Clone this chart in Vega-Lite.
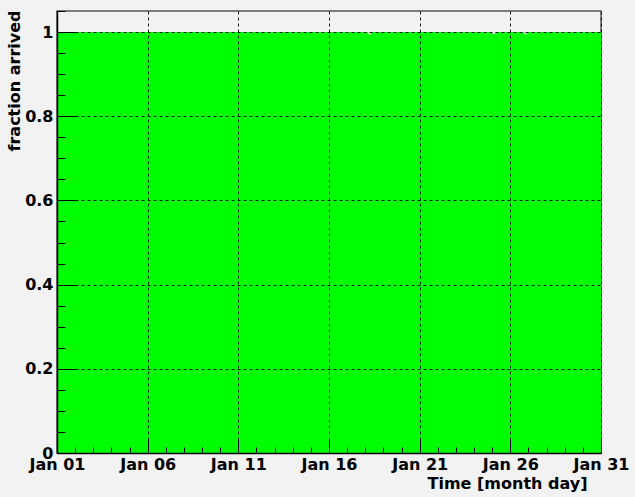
{
  "$schema": "https://vega.github.io/schema/vega-lite/v6.json",
  "width": 544,
  "height": 442,
  "autosize": {"type": "none"},
  "padding": {"left": 57, "top": 11, "right": 34, "bottom": 44},
  "background": "#f2f2f2",
  "config": {
    "view": {"stroke": "#555555", "strokeWidth": 1.5, "fill": "#f2f2f2"},
    "font": "DejaVu Sans"
  },
  "data": {
    "values": [
      {"t": "2010-01-01T00:00:00Z", "v": 1},
      {"t": "2010-01-18T04:00:00Z", "v": 0.995},
      {"t": "2010-01-18T08:00:00Z", "v": 1},
      {"t": "2010-01-25T00:00:00Z", "v": 0.996},
      {"t": "2010-01-25T04:00:00Z", "v": 1},
      {"t": "2010-01-26T18:00:00Z", "v": 0.996},
      {"t": "2010-01-26T22:00:00Z", "v": 1},
      {"t": "2010-01-31T00:00:00Z", "v": 1}
    ]
  },
  "mark": {"type": "area", "interpolate": "step-after", "color": "#00ff00", "opacity": 1},
  "encoding": {
    "x": {
      "field": "t",
      "type": "temporal",
      "scale": {
        "type": "utc",
        "domain": [
          {"year": 2010, "month": "jan", "date": 1, "utc": true},
          {"year": 2010, "month": "jan", "date": 31, "utc": true}
        ],
        "nice": false
      },
      "axis": {
        "zindex": 1,
        "tickCount": {"interval": "day", "step": 1},
        "labelExpr": "(utcdate(datum.value) - 1) % 5 == 0 ? utcFormat(datum.value, '%b %d') : ''",
        "labelFlush": false,
        "labelOverlap": false,
        "labelFont": "DejaVu Sans",
        "labelFontWeight": "bold",
        "labelFontSize": 16,
        "labelColor": "#000000",
        "labelPadding": 17,
        "labelBaseline": "top",
        "tickColor": "#000000",
        "tickWidth": 1,
        "tickSize": {"condition": {"test": "(utcdate(datum.value) - 1) % 5 == 0", "value": -14}, "value": -6},
        "domainColor": "#000000",
        "domainWidth": 1.5,
        "grid": true,
        "gridColor": "#000000",
        "gridDash": [3, 3],
        "gridWidth": 1,
        "gridOpacity": {"condition": {"test": "(utcdate(datum.value) - 1) % 5 == 0", "value": 0.9}, "value": 0},
        "title": "Time [month day]",
        "titleFont": "DejaVu Sans",
        "titleFontWeight": "bold",
        "titleFontSize": 16,
        "titleColor": "#000000",
        "titleAnchor": "end",
        "titleAlign": "right",
        "titleBaseline": "alphabetic",
        "titleX": 530,
        "titleY": 35
      }
    },
    "y": {
      "field": "v",
      "type": "quantitative",
      "scale": {"domain": [0, 1.05], "nice": false, "zero": true},
      "axis": {
        "zindex": 1,
        "values": [0, 0.05, 0.1, 0.15, 0.2, 0.25, 0.3, 0.35, 0.4, 0.45, 0.5, 0.55, 0.6, 0.65, 0.7, 0.75, 0.8, 0.85, 0.9, 0.95, 1, 1.05],
        "labelExpr": "abs(datum.value * 5 - round(datum.value * 5)) < 0.000001 ? format(datum.value, '~g') : ''",
        "labelOverlap": false,
        "labelFont": "DejaVu Sans",
        "labelFontWeight": "bold",
        "labelFontSize": 16,
        "labelColor": "#000000",
        "labelPadding": 22,
        "tickColor": "#000000",
        "tickWidth": 1,
        "tickSize": {"condition": {"test": "abs(datum.value * 5 - round(datum.value * 5)) < 0.000001", "value": -18}, "value": -8},
        "domainColor": "#000000",
        "domainWidth": 1.5,
        "grid": true,
        "gridColor": "#000000",
        "gridDash": [3, 3],
        "gridWidth": 1,
        "gridOpacity": {"condition": {"test": "abs(datum.value * 5 - round(datum.value * 5)) < 0.000001 && datum.value > 0", "value": 0.9}, "value": 0},
        "title": "fraction arrived",
        "titleFont": "DejaVu Sans",
        "titleFontWeight": "bold",
        "titleFontSize": 16,
        "titleColor": "#000000",
        "titleAnchor": "end",
        "titleAngle": -90,
        "titleAlign": "right",
        "titleBaseline": "middle",
        "titleX": -43,
        "titleY": -1
      }
    }
  }
}
